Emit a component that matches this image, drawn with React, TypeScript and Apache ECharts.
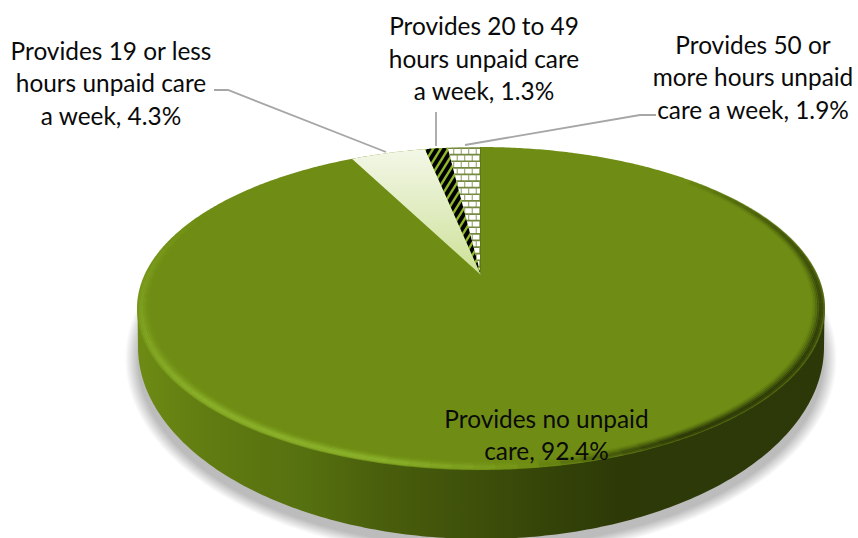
import React, { useEffect, useRef } from "react";
import * as echarts from "echarts";

const categories = ["Provides no unpaid care", "Provides 19 or less hours unpaid care a week", "Provides 20 to 49 hours unpaid care a week", "Provides 50 or more hours unpaid care a week"];
const shares = [92.4, 4.3, 1.3, 1.9];
const labelLines = [
  ["Provides no unpaid", "care, 92.4%"],
  ["Provides 19 or less", "hours unpaid care", "a week, 4.3%"],
  ["Provides 20 to 49", "hours unpaid care", "a week, 1.3%"],
  ["Provides 50 or", "more hours unpaid", "care a week, 1.9%"],
];

// layout (not data)
const APEX = { x: 481, y: 275 };
const K = 0.2073, R = 336.5, S = 154.5;
const WALL = { cx: 481, cy: 347, rx: 343, ry: 192 };
const LABEL_POS = [
  { x: 546.5, y: 418 },
  { x: 111, y: 50 },
  { x: 484, y: 25.5 },
  { x: 753, y: 44 },
];
const LINE_H = 32.5;
const FONT = '24.4px Lato, "Open Sans", sans-serif';
const LEADERS = [
  null,
  [[214, 90], [228, 90], [386, 152]],
  [[436, 112], [436, 146]],
  [[656, 115], [640, 115], [465, 145]],
];
const TOP = "#6f8d14";

// perspective projection of the pie's disc; theta runs clockwise from 12 o'clock
function project(theta: number, r = 1) {
  const u = r * Math.sin(theta), v = r * Math.cos(theta);
  const w = 1 + K * v;
  return [APEX.x + (R * u) / w, APEX.y - (S * v) / w];
}
function arc(a: number, b: number, r = 1, step = 0.01) {
  const n = Math.max(2, Math.ceil(Math.abs(b - a) / step));
  const pts: number[][] = [];
  for (let i = 0; i <= n; i++) pts.push(project(a + ((b - a) * i) / n, r));
  return pts;
}
const total = shares.reduce((s, v) => s + v, 0);
function sliceAngles(i: number) {
  let acc = 0;
  for (let j = 0; j < i; j++) acc += shares[j];
  return [(acc / total) * 2 * Math.PI, ((acc + shares[i]) / total) * 2 * Math.PI];
}
const hGrad = (stops: [number, string][]) => ({
  type: "linear", x: 0, y: 0, x2: 1, y2: 0,
  colorStops: stops.map(([offset, color]) => ({ offset, color })),
});
const ramp = (v: number, a: number, b: number) => Math.min(1, Math.max(0, (v - a) / (b - a)));

function renderShadow() {
  const children: any[] = [];
  for (let d = 16; d >= 0; d -= 1) {
    children.push({
      type: "ellipse",
      shape: { cx: WALL.cx, cy: WALL.cy + 12, rx: WALL.rx + d * 0.8, ry: WALL.ry + d * 0.7 - 4 },
      style: { fill: "rgba(0,0,0,0.014)" },
    });
  }
  return { type: "group", children };
}

function renderWall() {
  const pts: number[][] = [];
  for (let i = 0; i <= 200; i++) {
    const t = (Math.PI * i) / 200;
    pts.push([WALL.cx + WALL.rx * Math.cos(t), WALL.cy + WALL.ry * Math.sin(t)]);
  }
  pts.push([137.5, 310], [824.5, 310]);
  return {
    type: "polygon",
    shape: { points: pts },
    style: {
      fill: hGrad([
        [0, "#6d8b14"], [0.1, "#617c11"], [0.25, "#55700f"], [0.35, "#4a5f0c"],
        [0.5, "#3d4f0a"], [0.615, "#334208"], [0.7, "#2d3a08"], [1, "#2c3808"],
      ]),
    },
  };
}

function renderFace() {
  const children: any[] = [
    { type: "polygon", shape: { points: arc(0, 2 * Math.PI, 1, 0.01) }, style: { fill: TOP } },
  ];
  const rings: [number, number][] = [[0.997, 0.45], [0.992, 0.75], [0.987, 0.85], [0.982, 0.6], [0.977, 0.38], [0.972, 0.2], [0.967, 0.08]];
  const step = 3;
  for (const [r, a] of rings) {
    for (let deg = 40; deg < 300; deg += step) {
      const mid = deg + step / 2;
      const lightA = ramp(mid, 172, 196) * (1 - 0.55 * ramp(mid, 225, 262)) * (1 - ramp(mid, 262, 296));
      const darkA = ramp(mid, 45, 110) * (1 - ramp(mid, 150, 172));
      const rad = (x: number) => (x * Math.PI) / 180;
      if (lightA > 0) {
        children.push({
          type: "polyline",
          shape: { points: arc(rad(deg), rad(deg + step), r, 0.02) },
          style: { fill: "none", lineWidth: 2.4, stroke: `rgba(140,178,44,${(a * lightA).toFixed(3)})` },
        });
      } else if (darkA > 0) {
        children.push({
          type: "polyline",
          shape: { points: arc(rad(deg), rad(deg + step), r, 0.02) },
          style: { fill: "none", lineWidth: 2.4, stroke: `rgba(42,54,8,${(a * darkA).toFixed(3)})` },
        });
      }
    }
  }
  return { type: "group", children };
}

function hatch(clip: number[][], lines: any[], base: string) {
  return {
    type: "group",
    children: [
      { type: "polygon", shape: { points: clip }, style: { fill: base } },
      { type: "group", clipPath: { type: "polygon", shape: { points: clip } }, children: lines },
    ],
  };
}

function renderSlice(i: number) {
  const [a, b] = sliceAngles(i);
  const pts = [[APEX.x, APEX.y], ...arc(a, b, 1, 0.004)];
  if (i === 1) {
    return {
      type: "polygon",
      shape: { points: pts },
      style: {
        fill: {
          type: "linear", x: 0, y: 0, x2: 0, y2: 1,
          colorStops: [
            { offset: 0, color: "#f3f7e7" },
            { offset: 0.5, color: "#e0ecc0" },
            { offset: 1, color: "#cde196" },
          ],
        },
      },
    };
  }
  const xs = pts.map((p) => p[0]), ys = pts.map((p) => p[1]);
  const x0 = Math.min(...xs), x1 = Math.max(...xs), y0 = Math.min(...ys), y1 = Math.max(...ys);
  const lines: any[] = [];
  if (i === 2) {
    for (let c = x0 - 10; c < x1 + (y1 - y0) + 10; c += 7.5) {
      lines.push({
        type: "line",
        shape: { x1: c, y1: y0, x2: c - (y1 - y0) * 0.62, y2: y1 },
        style: { stroke: "#000", lineWidth: 4 },
      });
    }
    return hatch(pts, lines, "#8fb82a");
  }
  let row = 0;
  for (let y = y0 + 1; y < y1; y += 6.6, row++) {
    lines.push({ type: "line", shape: { x1: x0, y1: y, x2: x1, y2: y }, style: { stroke: "#75883f", lineWidth: 1.7 } });
    for (let x = x0 + (row % 2 ? 2 : 6); x < x1; x += 7.5) {
      lines.push({ type: "line", shape: { x1: x, y1: y, x2: x, y2: y + 6.6 }, style: { stroke: "#8d9c60", lineWidth: 1 } });
    }
  }
  lines.push({ type: "line", shape: { x1: x1, y1: y0, x2: x1, y2: y1 }, style: { stroke: "#5f7a12", lineWidth: 2 } });
  return hatch(pts, lines, "#ffffff");
}

function renderLabel(i: number) {
  const children: any[] = [];
  const lead = LEADERS[i];
  if (lead) {
    children.push({
      type: "polyline",
      shape: { points: lead },
      style: { fill: "none", stroke: "#a6a6a6", lineWidth: 1.8 },
    });
  }
  labelLines[i].forEach((line, j) => {
    children.push({
      type: "text",
      style: {
        text: line,
        x: LABEL_POS[i].x,
        y: LABEL_POS[i].y + j * LINE_H,
        font: FONT,
        fill: "#0a0a0a",
        align: "center",
        verticalAlign: "middle",
      },
    });
  });
  return { type: "group", children };
}

const sliceData = categories.map((name, i) => ({ name, value: shares[i] }));

export default function App() {
  const ref = useRef<HTMLDivElement>(null);
  useEffect(() => {
    document.body.style.margin = "0";
    const chart = echarts.init(ref.current!, null, { renderer: "svg" });
    chart.setOption({
      animation: false,
      tooltip: { show: false },
      series: [
        { type: "custom", coordinateSystem: "none", silent: true, data: [1], renderItem: () => renderShadow() },
        { type: "custom", coordinateSystem: "none", silent: true, data: [1], renderItem: () => renderWall() },
        { type: "custom", coordinateSystem: "none", silent: true, data: [1], renderItem: () => renderFace() },
        { type: "custom", coordinateSystem: "none", silent: true, data: sliceData.slice(1), renderItem: (p: any) => renderSlice(p.dataIndex + 1) },
        { type: "custom", coordinateSystem: "none", silent: true, data: sliceData, renderItem: (p: any) => renderLabel(p.dataIndex) },
      ],
    });
    return () => chart.dispose();
  }, []);
  return <div ref={ref} style={{ width: 858, height: 538, background: "#fff" }} />;
}
